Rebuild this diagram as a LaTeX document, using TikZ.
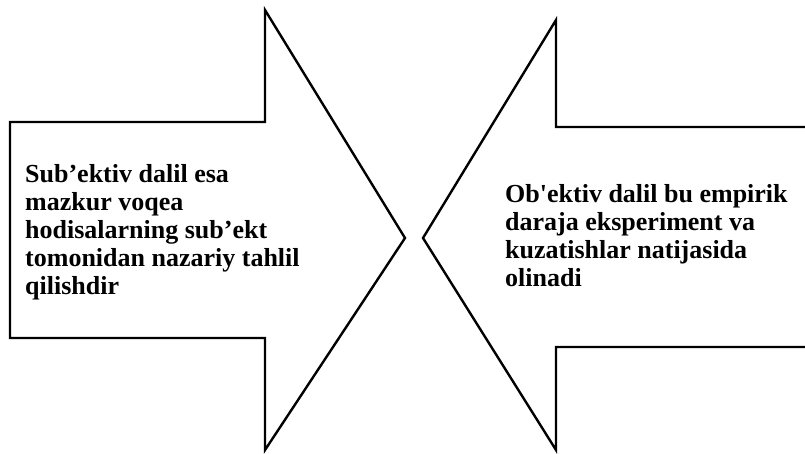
\documentclass[tikz,border=0pt]{standalone}
\usepackage{fontspec}
\setmainfont{Liberation Serif}
\usepackage{textcomp}
\begin{document}
\begin{tikzpicture}[x=1pt,y=-1pt,
  arrowshape/.style={draw=black,line width=2.4pt,line join=miter},
  label/.style={anchor=north west,align=left,inner sep=0pt,font=\bfseries\fontsize{26}{28}\selectfont}]
\useasboundingbox (0,0) rectangle (805,453);
% left arrow (points right)
\draw[arrowshape] (10,122) -- (265,122) -- (265,10) -- (405,238) -- (265,450) -- (265,338) -- (10,338) -- cycle;
% right arrow (points left)
\draw[arrowshape] (807,127) -- (556,127) -- (556,20) -- (423,238) -- (556,450) -- (556,347) -- (807,347);
\node[label] (lt) at (25,164) {Sub’ektiv dalil esa\\mazkur voqea\\hodisalarning sub’ekt\\tomonidan nazariy tahlil\\qilishdir};
\node[label] (rt) at (505,184) {Ob\textquotesingle ektiv dalil bu empirik\\daraja eksperiment va\\kuzatishlar natijasida\\olinadi};
\end{tikzpicture}
\end{document}
